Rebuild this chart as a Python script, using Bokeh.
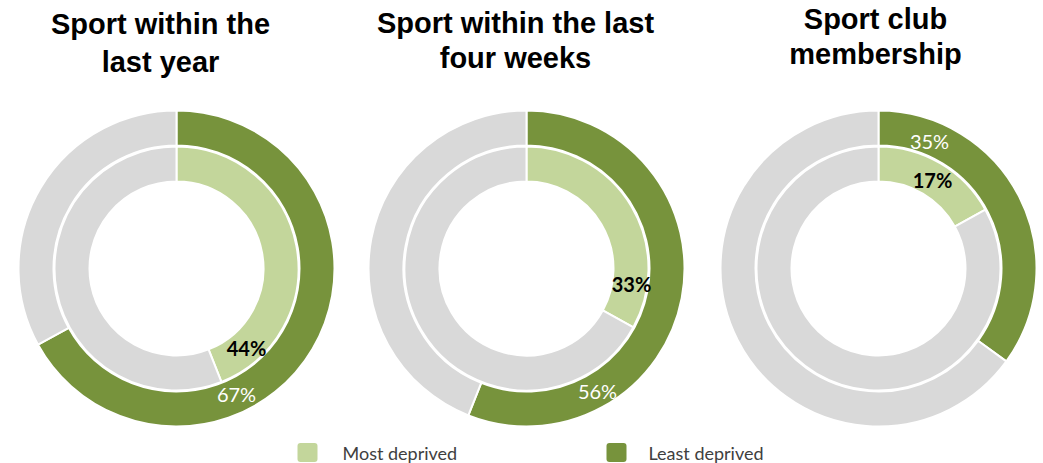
import math
from bokeh.plotting import figure
from bokeh.models import Range1d
from bokeh.core.properties import value
from bokeh.embed import file_html
from bokeh.resources import INLINE

# ---- data ----
titles = [["Sport within the", "last year"],
          ["Sport within the last", "four weeks"],
          ["Sport club", "membership"]]
series = ["Most deprived", "Least deprived"]
most_deprived = [44, 33, 17]     # inner ring (%)
least_deprived = [67, 56, 35]    # outer ring (%)

# ---- style / layout ----
LIGHT = "#C3D69B"
DARK = "#77933C"
GREY = "#D9D9D9"
W, H = 1043, 463
TOP = 463  # screen y -> data y conversion


def Y(sy):
    return TOP - sy


centers_x = [176, 526, 878]
center_y = 268
title_x = [160, 515, 875]
title_mid = [[23, 61], [22, 57], [18, 53]]
outer_r = (123, 158)
inner_r = (87, 122)
# label offsets from chart centre (screen px)
inner_lab_off = [(70, 79), (105, 15), (54, -89)]
outer_lab_off = [(60, 125), (71, 122), (51, -128)]

p = figure(width=W, height=H, output_backend="svg", toolbar_location=None,
           x_range=Range1d(0, W), y_range=Range1d(Y(H), Y(0)),
           min_border=0)
p.axis.visible = False
p.grid.visible = False
p.outline_line_color = None
p.background_fill_color = "white"
p.border_fill_color = "white"

for i in range(3):
    cx, cy = centers_x[i], Y(center_y)
    for frac, (ri, ro), col in [(least_deprived[i] / 100, outer_r, DARK),
                                (most_deprived[i] / 100, inner_r, LIGHT)]:
        a0 = math.pi / 2 - 2 * math.pi * frac
        # coloured segment (clockwise from 12 o'clock)
        p.annular_wedge(x=[cx], y=[cy], inner_radius=ri, outer_radius=ro,
                        start_angle=[a0], end_angle=[math.pi / 2],
                        fill_color=col, line_color="white", line_width=2)
        # remainder
        p.annular_wedge(x=[cx], y=[cy], inner_radius=ri, outer_radius=ro,
                        start_angle=[math.pi / 2], end_angle=[a0 + 2 * math.pi],
                        fill_color=GREY, line_color="white", line_width=2)
    # labels
    dx, dy = inner_lab_off[i]
    p.text(x=[cx + dx], y=[Y(center_y + dy)], text=[f"{most_deprived[i]}%"],
           text_font=value("Lato"), text_font_style="bold",
           text_font_size="20px", text_color="black",
           text_align="center", text_baseline="middle")
    dx, dy = outer_lab_off[i]
    p.text(x=[cx + dx], y=[Y(center_y + dy)], text=[f"{least_deprived[i]}%"],
           text_font=value("Lato"), text_font_size="20px", text_color="white",
           text_align="center", text_baseline="middle")
    # titles
    for line, mid in zip(titles[i], title_mid[i]):
        p.text(x=[title_x[i]], y=[Y(mid)], text=[line],
               text_font=value("Liberation Sans"), text_font_style="bold",
               text_font_size="29px", text_color="black",
               text_align="center", text_baseline="middle")

# legend
leg_sq_x = [307, 616]
leg_tx_x = [342, 648]
leg_y = 452
for name, col, sx, tx in zip(series, [LIGHT, DARK], leg_sq_x, leg_tx_x):
    p.rect(x=[sx], y=[Y(leg_y)], width=20, height=19, fill_color=col,
           line_color=None, border_radius=3)
    p.text(x=[tx], y=[Y(leg_y)], text=[name], text_font=value("Lato"),
           text_font_size="18px", text_color="#404040",
           text_align="left", text_baseline="middle")

open("out.html", "w").write(file_html(p, INLINE))
